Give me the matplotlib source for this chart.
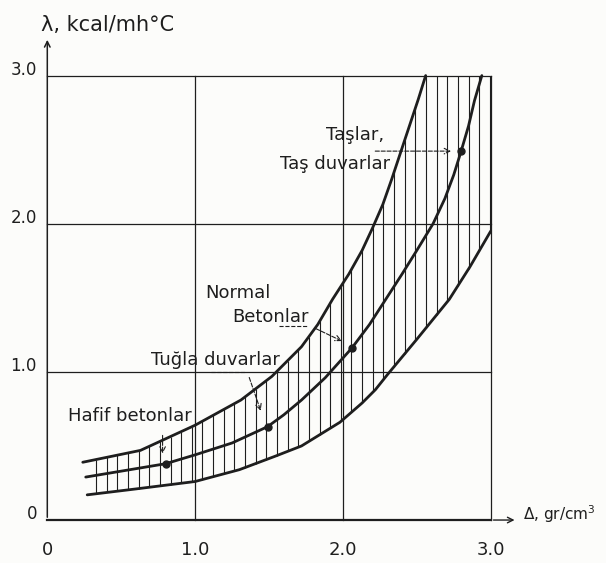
import numpy as np
import matplotlib.pyplot as plt

# curves (density gr/cm3 -> lambda kcal/mh C)
upper_x = [0.24, 0.63, 1.0, 1.31, 1.52, 1.72, 1.83, 1.93, 2.04, 2.13, 2.20, 2.27, 2.33, 2.39, 2.45, 2.51, 2.56]
upper_y = [0.39, 0.47, 0.64, 0.81, 0.97, 1.17, 1.32, 1.49, 1.66, 1.82, 1.97, 2.13, 2.30, 2.48, 2.66, 2.84, 3.0]
middle_x = [0.26, 0.80, 1.0, 1.25, 1.49, 1.6, 1.72, 1.88, 2.06, 2.18, 2.29, 2.40, 2.50, 2.61, 2.69, 2.75, 2.80, 2.85, 2.89, 2.94]
middle_y = [0.29, 0.38, 0.44, 0.52, 0.63, 0.71, 0.81, 0.96, 1.16, 1.32, 1.49, 1.66, 1.82, 2.0, 2.17, 2.33, 2.49, 2.66, 2.83, 3.0]
lower_x = [0.27, 0.6, 1.0, 1.3, 1.54, 1.72, 1.98, 2.13, 2.22, 2.30, 2.5, 2.72, 2.86, 3.0]
lower_y = [0.17, 0.21, 0.26, 0.34, 0.43, 0.50, 0.66, 0.79, 0.88, 0.98, 1.22, 1.49, 1.71, 1.95]

# marked points on the middle curve
dots_x = [0.80, 1.49, 2.06, 2.80]
dots_y = [0.38, 0.63, 1.16, 2.49]

x_ticks = [0, 1.0, 2.0, 3.0]
x_tick_labels = ["0", "1.0", "2.0", "3.0"]
y_ticks = [0, 1.0, 2.0, 3.0]
y_tick_labels = ["0", "1.0", "2.0", "3.0"]

ink = "#1e1e1e"
fig = plt.figure(figsize=(6.06, 5.63), dpi=100)
fig.patch.set_facecolor("#fcfcfa")
ax = fig.add_axes([0, 0, 1, 1])
ax.set_xlim(-0.32, 3.78)
ax.set_ylim(-0.29, 3.51)
ax.axis("off")

# grid / frame
for xv in x_ticks[1:]:
    ax.plot([xv, xv], [0, 3.0], color=ink, lw=0.9)
for yv in y_ticks[1:]:
    ax.plot([0, 3.0], [yv, yv], color=ink, lw=0.9)
ax.annotate("", xy=(0, 3.26), xytext=(0, 0),
            arrowprops=dict(arrowstyle="->", color=ink, lw=1.1))
ax.plot([0, 3.0], [0, 0], color=ink, lw=1.6)
ax.annotate("", xy=(3.18, 0), xytext=(3.0, 0),
            arrowprops=dict(arrowstyle="->", color=ink, lw=1.0))

# hatching between lower and upper curves
hx = np.arange(0.33, 3.0, 0.072)
top = np.minimum(np.interp(hx, upper_x, upper_y, right=3.0), 3.0)
bot = np.interp(hx, lower_x, lower_y)
ax.vlines(hx, bot, top, color=ink, lw=0.8)

for cx, cy in [(upper_x, upper_y), (middle_x, middle_y), (lower_x, lower_y)]:
    ax.plot(cx, cy, color=ink, lw=2.0, solid_capstyle="round", solid_joinstyle="round")
ax.plot(dots_x, dots_y, "o", color=ink, ms=5)

# tick labels
for xv, lab in zip(x_ticks, x_tick_labels):
    ax.text(xv, -0.20, lab, ha="center", va="center", fontsize=13, color=ink)
for yv, lab in zip(y_ticks, y_tick_labels):
    ax.text(-0.07, yv + 0.04, lab, ha="right", va="center", fontsize=12, color=ink)

ax.text(-0.04, 3.34, "λ, kcal/mh°C", ha="left", va="center", fontsize=15, color=ink)
ax.text(3.22, 0.04, "Δ, gr/cm$^3$", ha="left", va="center", fontsize=11, color=ink)

# annotations
fs = 13
ax.text(2.08, 2.60, "Taşlar,", ha="center", va="center", fontsize=fs, color=ink)
ax.text(1.95, 2.40, "Taş duvarlar", ha="center", va="center", fontsize=fs, color=ink)
ax.annotate("", xy=(2.75, 2.49), xytext=(2.20, 2.49),
            arrowprops=dict(arrowstyle="->", color=ink, lw=0.8, ls="--"))

ax.text(1.29, 1.53, "Normal", ha="center", va="center", fontsize=fs, color=ink)
ax.text(1.51, 1.37, "Betonlar", ha="center", va="center", fontsize=fs, color=ink)
ax.plot([1.57, 1.76], [1.31, 1.31], color=ink, lw=0.8, ls="--")
ax.annotate("", xy=(2.01, 1.20), xytext=(1.80, 1.30),
            arrowprops=dict(arrowstyle="->", color=ink, lw=0.8, ls="--"))

ax.text(1.14, 1.08, "Tuğla duvarlar", ha="center", va="center", fontsize=fs, color=ink)
ax.plot([1.11, 1.34], [1.0, 1.0], color=ink, lw=0.8, ls="--")
ax.annotate("", xy=(1.45, 0.72), xytext=(1.36, 0.98),
            arrowprops=dict(arrowstyle="->", color=ink, lw=0.8, ls="--"))

ax.text(0.56, 0.70, "Hafif betonlar", ha="center", va="center", fontsize=fs, color=ink)
ax.annotate("", xy=(0.78, 0.43), xytext=(0.78, 0.59),
            arrowprops=dict(arrowstyle="->", color=ink, lw=0.8, ls="--"))

fig.savefig("out.png", dpi=100, facecolor=fig.get_facecolor())
